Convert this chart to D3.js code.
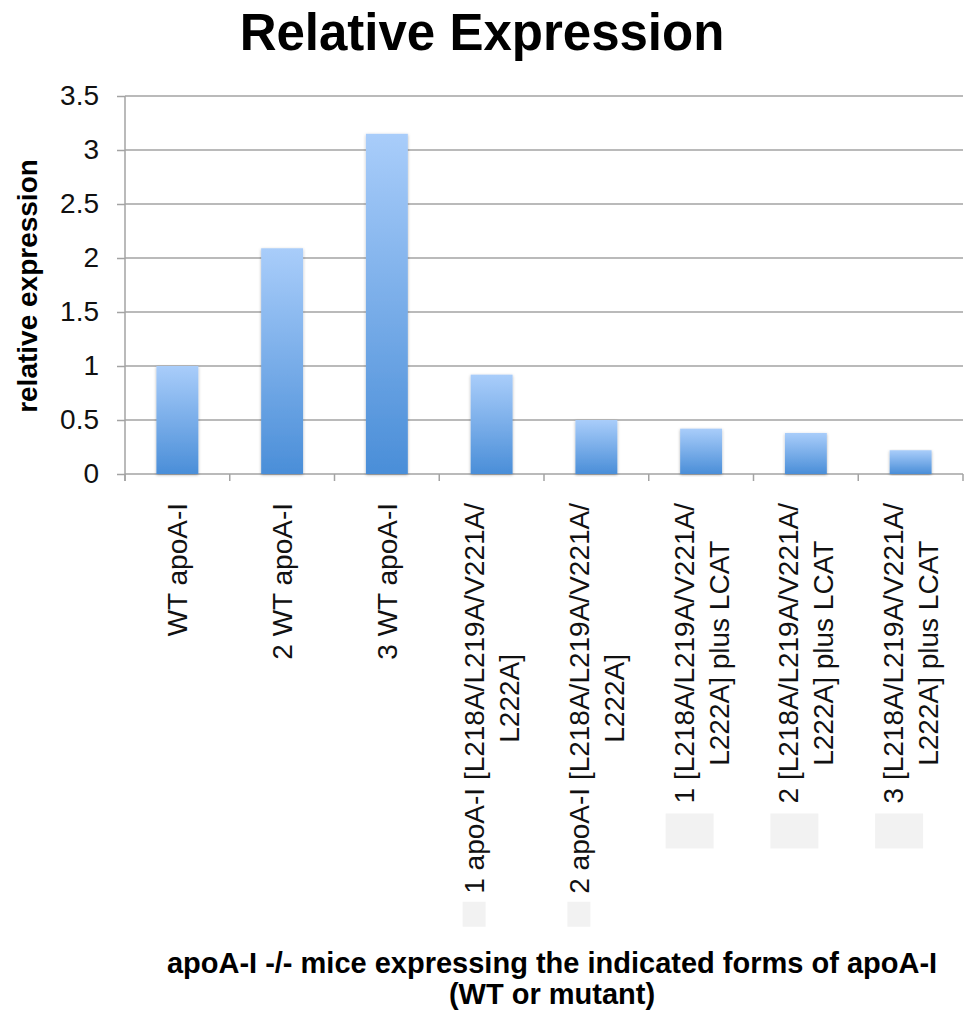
<!DOCTYPE html>
<html>
<head>
<meta charset="utf-8">
<style>
body { margin: 0; background: #fff; }
svg { font-family: "Liberation Sans", Arial, sans-serif; }
.grid line { stroke: #a3a3a3; stroke-width: 1.5; }
.axis path, .axis line { stroke: #a3a3a3; stroke-width: 1.5; }
.axis text { font-size: 28px; fill: #111; }
.cat text { font-size: 28px; fill: #111; }
.title { font-size: 51px; font-weight: bold; fill: #000; }
.ylabel { font-size: 28px; font-weight: bold; fill: #000; }
.xlabel { font-size: 29px; font-weight: bold; fill: #000; }
</style>
</head>
<body>
<svg width="965" height="1015"></svg>
<script src="https://cdnjs.cloudflare.com/ajax/libs/d3/7.8.5/d3.min.js"></script>
<script>

// categories (wrapped as in the original) and values
var categories = [
  ["WT apoA-I"],
  ["2 WT apoA-I"],
  ["3 WT apoA-I"],
  ["1 apoA-I [L218A/L219A/V221A/", "L222A]"],
  ["2 apoA-I [L218A/L219A/V221A/", "L222A]"],
  ["1 [L218A/L219A/V221A/", "L222A] plus LCAT"],
  ["2 [L218A/L219A/V221A/", "L222A] plus LCAT"],
  ["3 [L218A/L219A/V221A/", "L222A] plus LCAT"]
];
var values = [1.0, 2.09, 3.15, 0.92, 0.5, 0.42, 0.38, 0.22];
var yTicks = [0, 0.5, 1, 1.5, 2, 2.5, 3, 3.5];

var svg = d3.select("svg"),
    margin = {top: 96, left: 125, right: 2},
    plotBottom = 474,
    width = +svg.attr("width") - margin.left - margin.right;

var idx = d3.range(categories.length);

var x = d3.scaleBand()
  .domain(idx)
  .range([margin.left, margin.left + width])
  .paddingInner(0.6)
  .paddingOuter(0.3);

var y = d3.scaleLinear()
  .domain([0, 3.5])
  .range([plotBottom, margin.top]);

// gradient + soft shadow for the bars
var defs = svg.append("defs");
var grad = defs.append("linearGradient")
  .attr("id", "barGrad")
  .attr("x1", "0%").attr("x2", "0%")
  .attr("y1", "0%").attr("y2", "100%");
grad.append("stop").attr("offset", "0%").attr("stop-color", "#a9cdfa");
grad.append("stop").attr("offset", "100%").attr("stop-color", "#4a8ed8");

var shadow = defs.append("filter").attr("id", "shadow")
  .attr("x", "-20%").attr("y", "-5%").attr("width", "140%").attr("height", "110%");
shadow.append("feDropShadow")
  .attr("dx", 0).attr("dy", 1)
  .attr("stdDeviation", 1.5)
  .attr("flood-color", "#000")
  .attr("flood-opacity", 0.3);

// title
svg.append("text")
  .attr("class", "title")
  .attr("x", 482)
  .attr("y", 50)
  .attr("text-anchor", "middle")
  .text("Relative Expression");

// gridlines
svg.append("g")
  .attr("class", "grid")
  .selectAll("line")
  .data(yTicks)
  .enter().append("line")
    .attr("x1", margin.left)
    .attr("x2", margin.left + width)
    .attr("y1", function(d) { return y(d); })
    .attr("y2", function(d) { return y(d); });

// y axis
var gy = svg.append("g")
  .attr("class", "axis")
  .attr("transform", "translate(" + margin.left + ",0)")
  .call(d3.axisLeft(y)
    .tickValues(yTicks)
    .tickSizeInner(8)
    .tickSizeOuter(0)
    .tickPadding(18)
    .tickFormat(function(d) { return d3.format("")(d); }));
gy.select(".domain").attr("d", "M0," + y(3.5) + "V" + (plotBottom + 7));

// x axis: baseline + ticks at slot boundaries
var slotEdges = idx.map(function(i) { return x(i) - x.step() * x.paddingOuter(); });
slotEdges.push(x.range()[1]);
var gx = svg.append("g").attr("class", "axis");
gx.selectAll("line")
  .data(slotEdges)
  .enter().append("line")
    .attr("x1", function(d) { return d; })
    .attr("x2", function(d) { return d; })
    .attr("y1", plotBottom)
    .attr("y2", plotBottom + 7);

// bars
svg.append("g")
  .selectAll("rect")
  .data(values)
  .enter().append("rect")
    .attr("x", function(d, i) { return x(i); })
    .attr("y", function(d) { return y(d); })
    .attr("width", x.bandwidth())
    .attr("height", function(d) { return plotBottom - y(d); })
    .attr("fill", "url(#barGrad)")
    .attr("filter", "url(#shadow)");

// category labels, rotated, wrapped lines centered on each other
var labelTop = 503, lineGap = 35;
var catG = svg.append("g").attr("class", "cat");

categories.forEach(function(lines, i) {
  var cx = x(i) + x.bandwidth() / 2;
  var texts = lines.map(function(s) {
    return catG.append("text").attr("text-anchor", "middle").text(s);
  });
  var lens = texts.map(function(t) { return t.node().getComputedTextLength(); });
  var maxLen = d3.max(lens);
  var cy = labelTop + maxLen / 2;
  texts.forEach(function(t, j) {
    var lx = cx + (j - (lines.length - 1) / 2) * lineGap + 10;
    t.attr("transform", "translate(" + lx + "," + cy + ") rotate(-90)");
  });

  // light grey patches below the wrapped labels
  if (lines.length > 1) {
    var small = lines[0].indexOf("apoA-I") >= 0;
    var bw = small ? 23 : 48, bh = small ? 25 : 35;
    var bx = cx + (0 - (lines.length - 1) / 2) * lineGap + (small ? 0 : 6);
    var by = cy + lens[0] / 2 + (small ? 8 : 10);
    catG.append("rect")
      .attr("x", bx - bw / 2)
      .attr("y", by)
      .attr("width", bw)
      .attr("height", bh)
      .attr("fill", "#f2f2f2");
  }
});

// axis titles
svg.append("text")
  .attr("class", "ylabel")
  .attr("transform", "translate(37,286) rotate(-90)")
  .attr("text-anchor", "middle")
  .text("relative expression");

var xl = svg.append("text")
  .attr("class", "xlabel")
  .attr("text-anchor", "middle");
xl.append("tspan").attr("x", 552).attr("y", 973)
  .text("apoA-I -/- mice expressing the indicated forms of apoA-I");
xl.append("tspan").attr("x", 552).attr("y", 1004)
  .text("(WT or mutant)");

</script>
</body>
</html>
